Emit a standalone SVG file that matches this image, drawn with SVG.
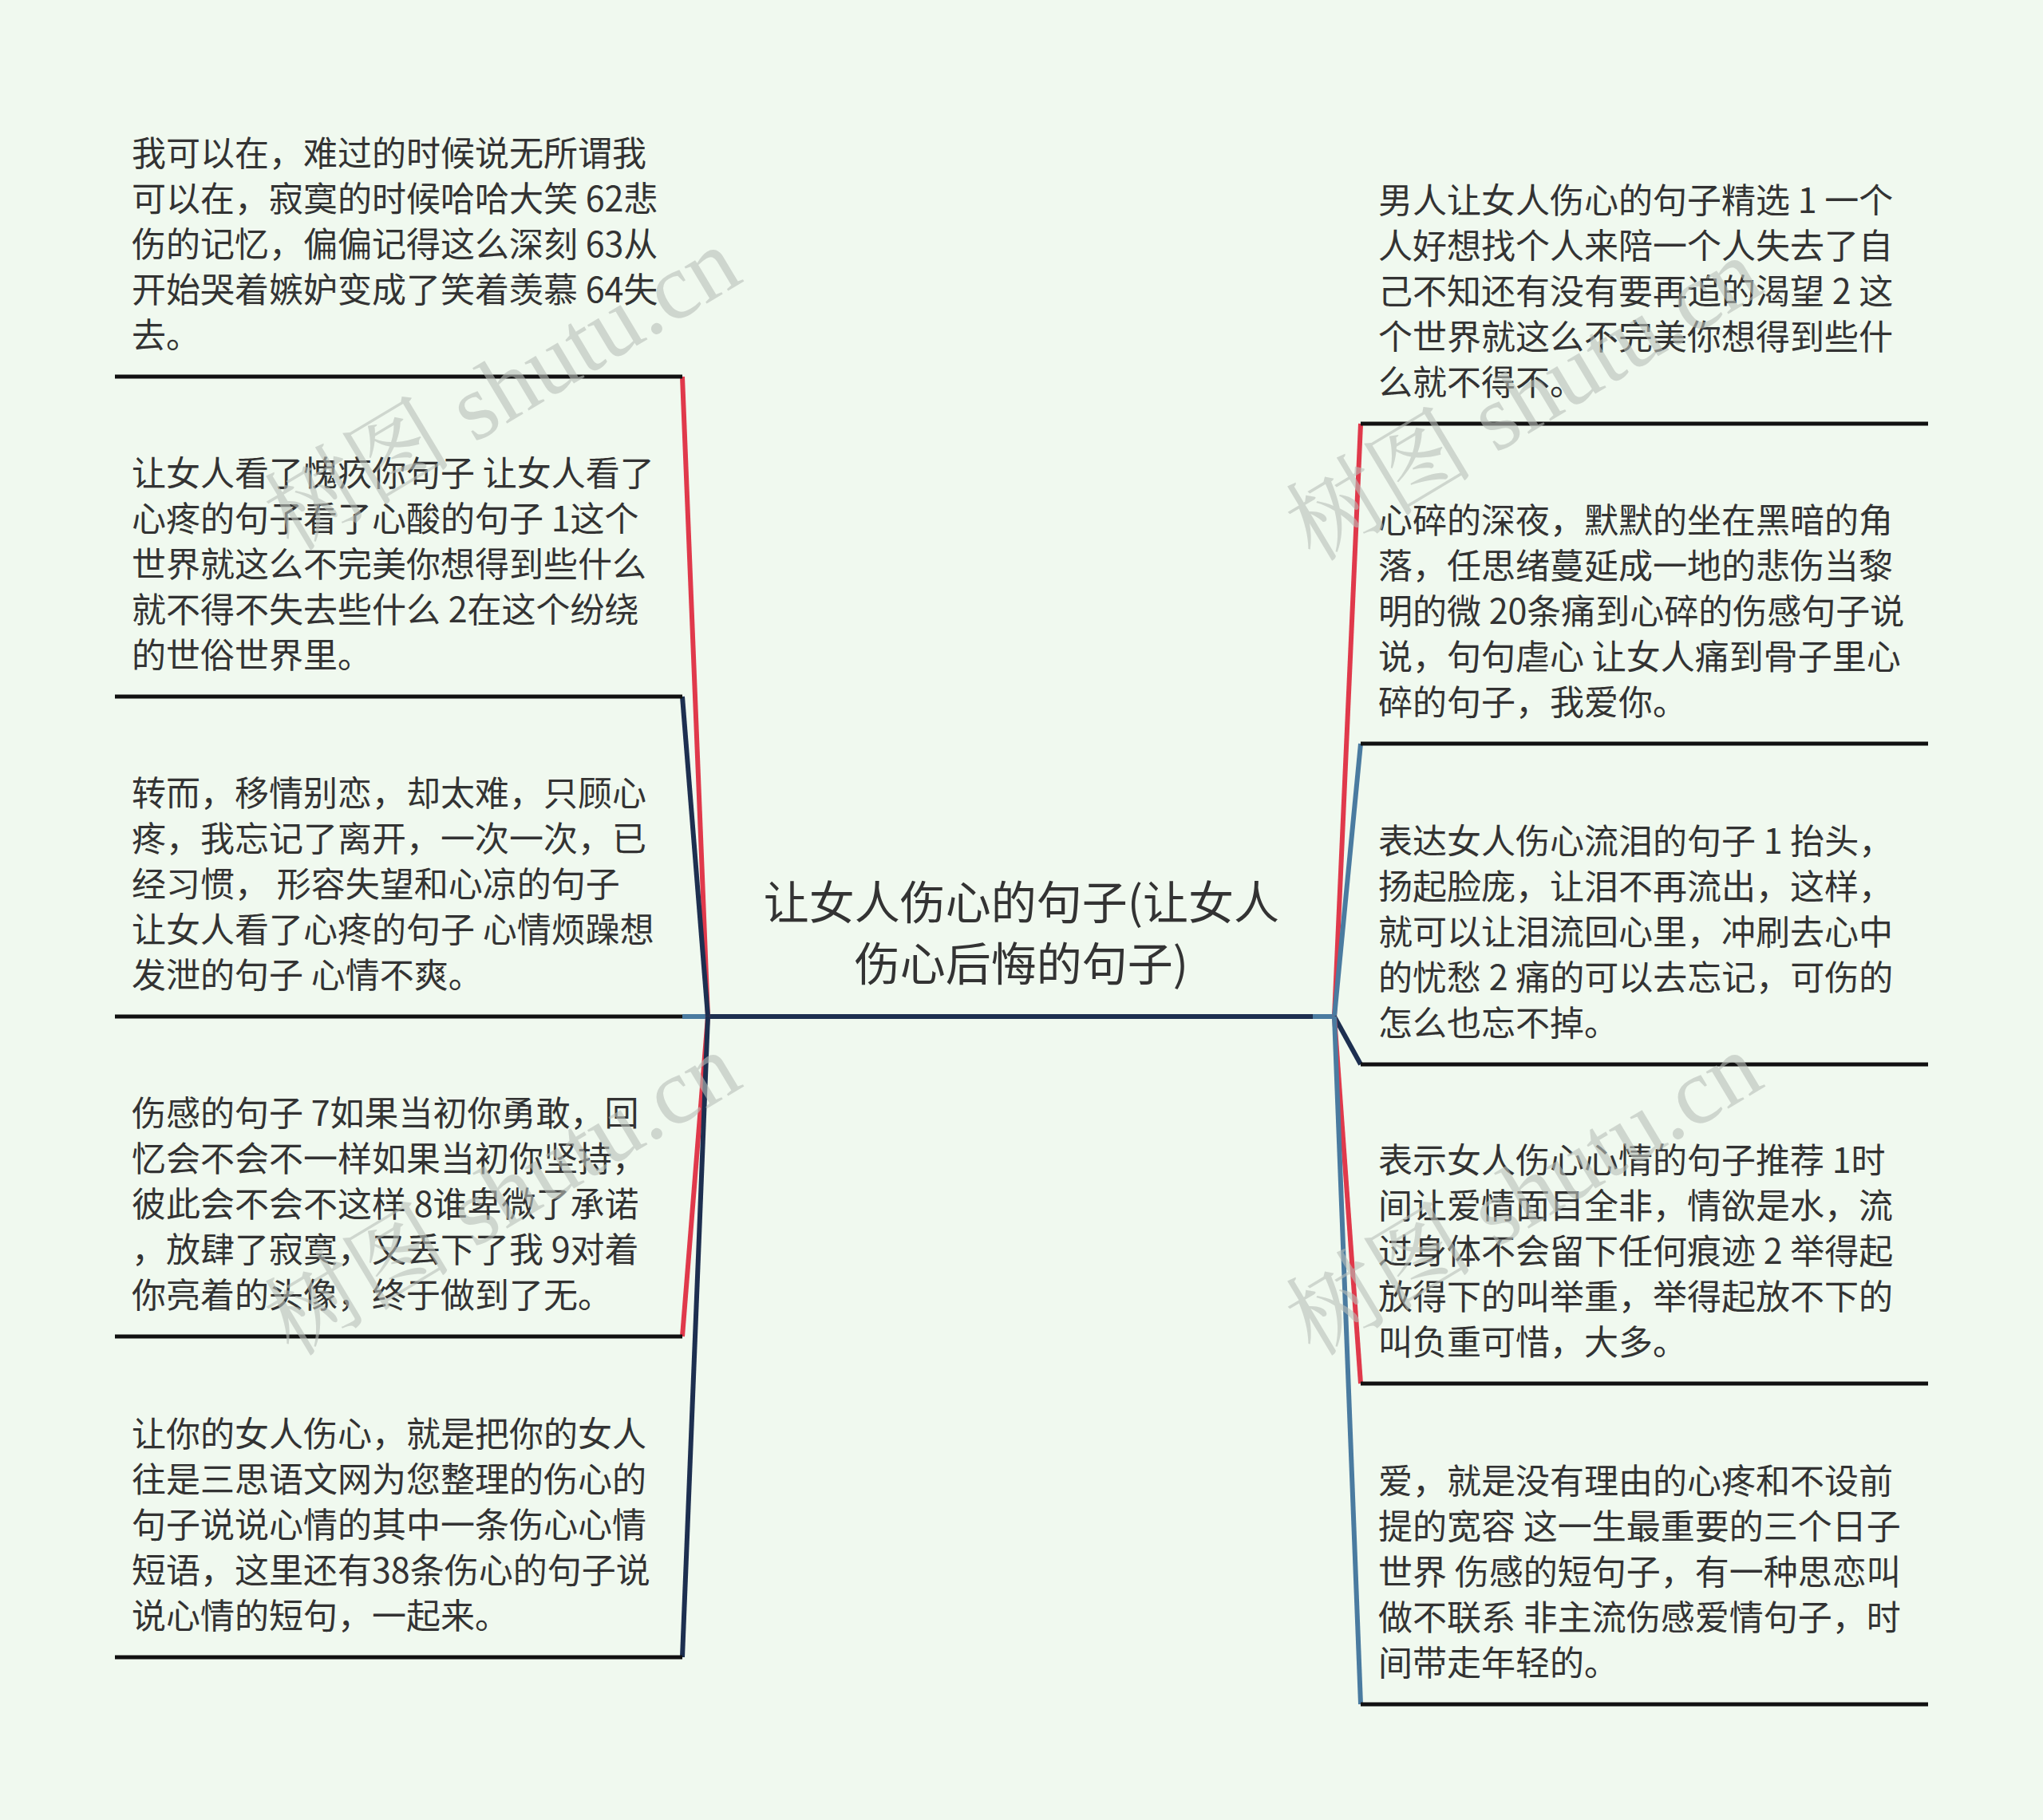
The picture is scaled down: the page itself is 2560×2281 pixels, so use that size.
<svg xmlns="http://www.w3.org/2000/svg" width="2560" height="2281" viewBox="0 0 2560 2281">
<style>
.bg{fill:#f0f9ef}
.t{font-family:"Noto Sans CJK SC","Noto Sans",sans-serif;font-size:43px;fill:#333333}
.c{font-family:"Noto Sans CJK SC","Noto Sans",sans-serif;font-size:57px;fill:#333333;text-anchor:middle}
.ul{stroke:#111111;stroke-width:5;fill:none}
.red{stroke:#e0394b;stroke-width:6;fill:none}
.navy{stroke:#1d2f50;stroke-width:6;fill:none}
.blue{stroke:#4a7ba0;stroke-width:6;fill:none}
.wm{font-family:"Liberation Serif","Noto Serif CJK SC","Noto Sans CJK SC",serif;font-size:118px;fill:#b9bfb9;opacity:0.6}
</style>
<rect class="bg" x="0" y="0" width="2560" height="2281"/>

<g id="connectors">
  <line class="navy" x1="887" y1="1274" x2="1645" y2="1274" stroke-width="7"/>
  <line class="blue" x1="1645" y1="1274" x2="1672" y2="1274" stroke-width="7"/>
  <line class="blue" x1="855" y1="1274" x2="887" y2="1274" stroke-width="7"/>
  <line class="red" x1="887" y1="1274" x2="855" y2="472"/>
  <line class="navy" x1="887" y1="1274" x2="855" y2="873"/>
  <line class="red" x1="887" y1="1274" x2="855" y2="1675"/>
  <line class="navy" x1="887" y1="1274" x2="855" y2="2077"/>
  <line class="red" x1="1672" y1="1274" x2="1705" y2="531"/>
  <line class="blue" x1="1672" y1="1274" x2="1705" y2="932"/>
  <line class="navy" x1="1672" y1="1274" x2="1705" y2="1334"/>
  <line class="red" x1="1672" y1="1274" x2="1705" y2="1734"/>
  <line class="blue" x1="1672" y1="1274" x2="1705" y2="2136"/>
</g>

<g id="center">
  <text class="c" x="1280" y="1152">让女人伤心的句子(让女人</text>
  <text class="c" x="1280" y="1229">伤心后悔的句子)</text>
</g>

<g id="L1">
  <line class="ul" x1="144" y1="472" x2="855" y2="472"/>
  <text class="t" x="165" y="208">我可以在，难过的时候说无所谓我</text>
  <text class="t" x="165" y="265">可以在，寂寞的时候哈哈大笑 62悲</text>
  <text class="t" x="165" y="322">伤的记忆，偏偏记得这么深刻 63从</text>
  <text class="t" x="165" y="379">开始哭着嫉妒变成了笑着羡慕 64失</text>
  <text class="t" x="165" y="436">去。</text>
</g>
<g id="L2">
  <line class="ul" x1="144" y1="873" x2="855" y2="873"/>
  <text class="t" x="165" y="609">让女人看了愧疚你句子 让女人看了</text>
  <text class="t" x="165" y="666">心疼的句子看了心酸的句子 1这个</text>
  <text class="t" x="165" y="723">世界就这么不完美你想得到些什么</text>
  <text class="t" x="165" y="780">就不得不失去些什么 2在这个纷绕</text>
  <text class="t" x="165" y="837">的世俗世界里。</text>
</g>
<g id="L3">
  <line class="ul" x1="144" y1="1274" x2="855" y2="1274"/>
  <text class="t" x="165" y="1010">转而，移情别恋，却太难，只顾心</text>
  <text class="t" x="165" y="1067">疼，我忘记了离开，一次一次，已</text>
  <text class="t" x="165" y="1124">经习惯， 形容失望和心凉的句子</text>
  <text class="t" x="165" y="1181">让女人看了心疼的句子 心情烦躁想</text>
  <text class="t" x="165" y="1238">发泄的句子 心情不爽。</text>
</g>
<g id="L4">
  <line class="ul" x1="144" y1="1675" x2="855" y2="1675"/>
  <text class="t" x="165" y="1411">伤感的句子 7如果当初你勇敢，回</text>
  <text class="t" x="165" y="1468">忆会不会不一样如果当初你坚持，</text>
  <text class="t" x="165" y="1525">彼此会不会不这样 8谁卑微了承诺</text>
  <text class="t" x="165" y="1582">，放肆了寂寞，又丢下了我 9对着</text>
  <text class="t" x="165" y="1639">你亮着的头像，终于做到了无。</text>
</g>
<g id="L5">
  <line class="ul" x1="144" y1="2077" x2="855" y2="2077"/>
  <text class="t" x="165" y="1813">让你的女人伤心，就是把你的女人</text>
  <text class="t" x="165" y="1870">往是三思语文网为您整理的伤心的</text>
  <text class="t" x="165" y="1927">句子说说心情的其中一条伤心心情</text>
  <text class="t" x="165" y="1984">短语，这里还有38条伤心的句子说</text>
  <text class="t" x="165" y="2041">说心情的短句，一起来。</text>
</g>

<g id="R1">
  <line class="ul" x1="1705" y1="531" x2="2416" y2="531"/>
  <text class="t" x="1727" y="267">男人让女人伤心的句子精选 1 一个</text>
  <text class="t" x="1727" y="324">人好想找个人来陪一个人失去了自</text>
  <text class="t" x="1727" y="381">己不知还有没有要再追的渴望 2 这</text>
  <text class="t" x="1727" y="438">个世界就这么不完美你想得到些什</text>
  <text class="t" x="1727" y="495">么就不得不。</text>
</g>
<g id="R2">
  <line class="ul" x1="1705" y1="932" x2="2416" y2="932"/>
  <text class="t" x="1727" y="668">心碎的深夜，默默的坐在黑暗的角</text>
  <text class="t" x="1727" y="725">落，任思绪蔓延成一地的悲伤当黎</text>
  <text class="t" x="1727" y="782">明的微 20条痛到心碎的伤感句子说</text>
  <text class="t" x="1727" y="839">说，句句虐心 让女人痛到骨子里心</text>
  <text class="t" x="1727" y="896">碎的句子，我爱你。</text>
</g>
<g id="R3">
  <line class="ul" x1="1705" y1="1334" x2="2416" y2="1334"/>
  <text class="t" x="1727" y="1070">表达女人伤心流泪的句子 1 抬头，</text>
  <text class="t" x="1727" y="1127">扬起脸庞，让泪不再流出，这样，</text>
  <text class="t" x="1727" y="1184">就可以让泪流回心里，冲刷去心中</text>
  <text class="t" x="1727" y="1241">的忧愁 2 痛的可以去忘记，可伤的</text>
  <text class="t" x="1727" y="1298">怎么也忘不掉。</text>
</g>
<g id="R4">
  <line class="ul" x1="1705" y1="1734" x2="2416" y2="1734"/>
  <text class="t" x="1727" y="1470">表示女人伤心心情的句子推荐 1时</text>
  <text class="t" x="1727" y="1527">间让爱情面目全非，情欲是水，流</text>
  <text class="t" x="1727" y="1584">过身体不会留下任何痕迹 2 举得起</text>
  <text class="t" x="1727" y="1641">放得下的叫举重，举得起放不下的</text>
  <text class="t" x="1727" y="1698">叫负重可惜，大多。</text>
</g>
<g id="R5">
  <line class="ul" x1="1705" y1="2136" x2="2416" y2="2136"/>
  <text class="t" x="1727" y="1872">爱，就是没有理由的心疼和不设前</text>
  <text class="t" x="1727" y="1929">提的宽容 这一生最重要的三个日子</text>
  <text class="t" x="1727" y="1986">世界 伤感的短句子，有一种思恋叫</text>
  <text class="t" x="1727" y="2043">做不联系 非主流伤感爱情句子，时</text>
  <text class="t" x="1727" y="2100">间带走年轻的。</text>
</g>

<g id="watermarks">
  <text class="wm" text-anchor="middle" transform="translate(650,522) rotate(-31)">树图 shutu.cn</text>
  <text class="wm" text-anchor="middle" transform="translate(650,1531) rotate(-31)">树图 shutu.cn</text>
  <text class="wm" text-anchor="middle" transform="translate(1930,535) rotate(-31)">树图 shutu.cn</text>
  <text class="wm" text-anchor="middle" transform="translate(1930,1531) rotate(-31)">树图 shutu.cn</text>
</g>
</svg>
